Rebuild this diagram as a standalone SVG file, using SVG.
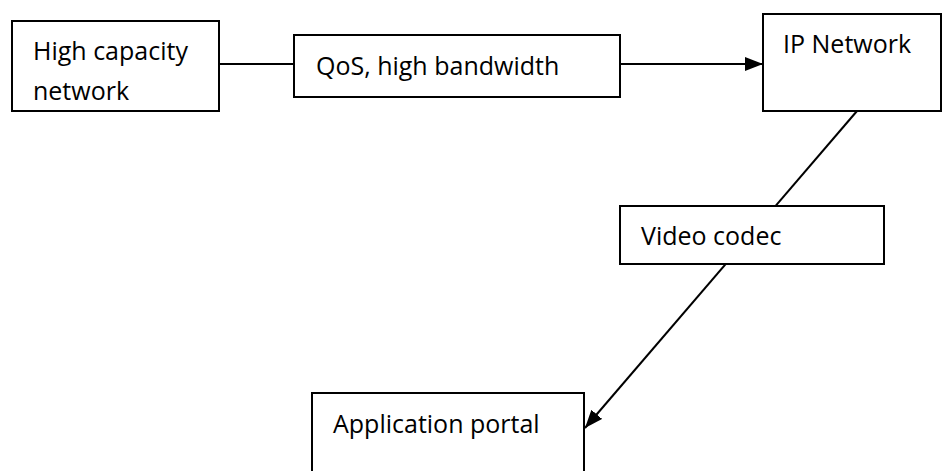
<svg xmlns="http://www.w3.org/2000/svg" width="943" height="471" viewBox="0 0 943 471">
<style>
.box{fill:#fff;stroke:#000;stroke-width:2}
.lbl{font-family:"Open Sans","Liberation Sans",sans-serif;font-size:25px;fill:#000}
.conn{stroke:#000;stroke-width:2;fill:none}
</style>
<defs>
<marker id="arr" markerWidth="18" markerHeight="14" refX="18" refY="7" orient="auto" markerUnits="userSpaceOnUse">
<path d="M0,0 L18,7 L0,14 Z" fill="#000"/>
</marker>
</defs>
<g id="connectors">
<line class="conn" x1="219" y1="64" x2="294" y2="64"/>
<line class="conn" x1="620" y1="64" x2="763" y2="64" marker-end="url(#arr)"/>
<line class="conn" x1="857" y1="111" x2="585" y2="428" marker-end="url(#arr)"/>
</g>
<g id="high-capacity">
<rect class="box" x="12" y="21" width="207" height="90"/>
<text class="lbl" x="33" y="60">High capacity</text>
<text class="lbl" x="33" y="100">network</text>
</g>
<g id="qos">
<rect class="box" x="294" y="35" width="326" height="62"/>
<text class="lbl" x="316" y="75">QoS, high bandwidth</text>
</g>
<g id="ip-network">
<rect class="box" x="763" y="14" width="178" height="97"/>
<text class="lbl" x="783" y="53">IP Network</text>
</g>
<g id="video-codec">
<rect class="box" x="620" y="206" width="264" height="58"/>
<text class="lbl" x="641" y="245">Video codec</text>
</g>
<g id="app-portal">
<rect class="box" x="312" y="393" width="272" height="90"/>
<text class="lbl" x="333" y="433">Application portal</text>
</g>
</svg>
